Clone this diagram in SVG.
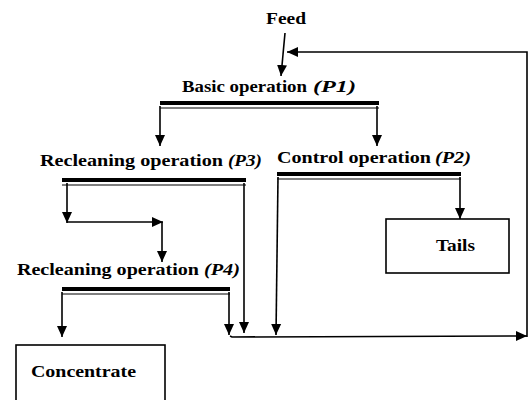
<svg xmlns="http://www.w3.org/2000/svg" width="529" height="400" viewBox="0 0 529 400">
<defs>
<marker id="ah" markerUnits="userSpaceOnUse" markerWidth="12" markerHeight="12" viewBox="0 0 12 12" refX="11" refY="6" orient="auto">
<path d="M0,1 L11,6 L0,11 Z" fill="#000"/>
</marker>
<style>
.t{font-family:'Liberation Serif','Times New Roman',serif;font-weight:bold;font-size:17px;fill:#000}
.it{font-style:italic}
.ar{stroke:#000;stroke-width:1.6;fill:none;marker-end:url(#ah)}
.bar{fill:#000}
.thin{stroke:#000;stroke-width:1.2}
.box{fill:#fff;stroke:#000;stroke-width:1.6}
</style>
</defs>
<rect width="529" height="400" fill="#fff"/>
<g id="feed"><text class="t" x="266" y="24" textLength="40" lengthAdjust="spacingAndGlyphs">Feed</text></g>
<g id="p1">
<text class="t" x="182" y="92" textLength="125" lengthAdjust="spacingAndGlyphs">Basic operation</text>
<text class="t it" x="313" y="92" textLength="43" lengthAdjust="spacingAndGlyphs">(P1)</text>
<rect class="bar" x="160" y="101" width="219" height="4"/>
<line class="thin" x1="160" y1="108" x2="379" y2="108"/>
</g>
<g id="p3">
<text class="t" x="40" y="166" textLength="183" lengthAdjust="spacingAndGlyphs">Recleaning operation</text>
<text class="t it" x="228" y="166" textLength="34" lengthAdjust="spacingAndGlyphs">(P3)</text>
<rect class="bar" x="62" y="178" width="184" height="4"/>
<line class="thin" x1="62" y1="185" x2="246" y2="185"/>
</g>
<g id="p2">
<text class="t" x="277" y="163" textLength="154" lengthAdjust="spacingAndGlyphs">Control operation</text>
<text class="t it" x="435" y="163" textLength="36" lengthAdjust="spacingAndGlyphs">(P2)</text>
<rect class="bar" x="277" y="172" width="184" height="4"/>
<line class="thin" x1="277" y1="179" x2="461" y2="179"/>
</g>
<g id="p4">
<text class="t" x="17" y="275" textLength="182" lengthAdjust="spacingAndGlyphs">Recleaning operation</text>
<text class="t it" x="204" y="275" textLength="36" lengthAdjust="spacingAndGlyphs">(P4)</text>
<rect class="bar" x="62" y="287" width="168" height="4"/>
<line class="thin" x1="62" y1="294" x2="230" y2="294"/>
</g>
<g id="tails">
<rect class="box" x="386" y="219" width="123" height="54"/>
<text class="t" x="436" y="251" textLength="39" lengthAdjust="spacingAndGlyphs">Tails</text>
</g>
<g id="concentrate">
<rect class="box" x="16" y="345" width="149" height="60"/>
<text class="t" x="31" y="377" textLength="105" lengthAdjust="spacingAndGlyphs">Concentrate</text>
</g>
<g id="connectors">
<line class="ar" x1="285" y1="33" x2="281" y2="76"/>
<polyline class="ar" points="527,337 527,52 287,52"/>
<line class="ar" x1="160" y1="106" x2="160" y2="146"/>
<line class="ar" x1="377" y1="106" x2="377" y2="146"/>
<line class="ar" x1="67" y1="183" x2="67" y2="223"/>
<line class="ar" x1="67" y1="222" x2="163" y2="222"/>
<line class="ar" x1="162" y1="222" x2="162" y2="262"/>
<line class="ar" x1="244" y1="183" x2="244" y2="333"/>
<line class="ar" x1="278" y1="177" x2="276" y2="335"/>
<line class="ar" x1="460" y1="177" x2="460" y2="219"/>
<line class="ar" x1="62" y1="292" x2="62" y2="337"/>
<line class="ar" x1="229" y1="292" x2="229" y2="335"/>
<polyline class="ar" points="230,336 232,337 527,336"/>
</g>
</svg>
